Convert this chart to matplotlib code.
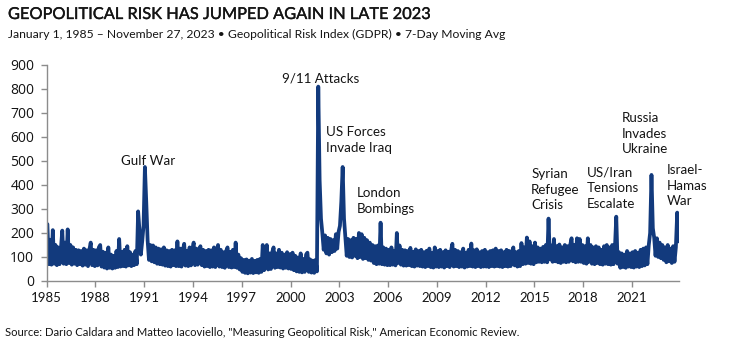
import numpy as np
import matplotlib
matplotlib.use("Agg")
import matplotlib.pyplot as plt
import matplotlib.patheffects as pe

# Geopolitical Risk Index (GPR), 7-day moving average, sampled through each month
# (alternating local highs and lows so the noisy daily band is preserved)
gpr_1985_1989 = [
    237, 70, 172, 68, 212, 72, 150, 66, 140, 70, 135, 210,
    72, 160, 70, 215, 75, 150, 68, 140, 72, 130, 66, 128,
    70, 125, 64, 135, 68, 128, 62, 130, 160, 66, 130, 62,
    128, 65, 140, 150, 60, 122, 56, 118, 52, 140, 55, 110,
    52, 105, 55, 125, 58, 175, 60, 120, 62, 130, 60, 145,
]
gpr_1990_1999 = [
    65, 120, 62, 110, 66, 125, 70, 290, 210, 110, 165, 230,
    475, 330, 170, 88, 150, 82, 148, 78, 140, 72, 135, 70,
    132, 68, 140, 64, 128, 62, 125, 60, 130, 66, 128, 62,
    165, 62, 135, 60, 128, 155, 64, 125, 62, 140, 65, 130,
    160, 66, 135, 68, 128, 145, 66, 130, 60, 125, 62, 130,
    58, 128, 60, 140, 58, 125, 150, 60, 130, 58, 120, 55,
    125, 140, 58, 122, 56, 130, 58, 160, 55, 110, 48, 95,
    38, 88, 34, 90, 32, 85, 35, 92, 33, 84, 36, 88,
    34, 92, 38, 150, 45, 110, 150, 48, 115, 50, 120, 140,
    55, 115, 58, 130, 56, 118, 52, 110, 55, 120, 52, 112,
]
gpr_2000_2009 = [
    50, 118, 45, 105, 40, 98, 38, 115, 36, 92, 38, 110,
    118, 38, 90, 35, 85, 34, 88, 40, 810, 420, 260, 200,
    130, 190, 115, 180, 110, 175, 120, 170, 125, 195, 135, 205,
    230, 330, 475, 260, 180, 105, 175, 100, 170, 98, 180, 105,
    175, 95, 200, 100, 195, 92, 180, 95, 170, 88, 160, 85,
    150, 75, 145, 70, 148, 72, 243, 70, 140, 68, 135, 66,
    130, 66, 140, 68, 125, 65, 200, 75, 148, 68, 130, 64,
    128, 64, 125, 66, 138, 62, 122, 60, 132, 64, 125, 62,
    130, 60, 120, 58, 126, 62, 135, 58, 118, 56, 140, 60,
    125, 58, 130, 60, 120, 56, 128, 62, 122, 58, 125, 155,
]
gpr_2010_2019 = [
    60, 130, 62, 125, 58, 120, 60, 135, 56, 118, 60, 130,
    62, 156, 60, 128, 58, 132, 62, 120, 58, 125, 60, 130,
    60, 120, 58, 125, 62, 128, 60, 135, 62, 125, 60, 128,
    58, 120, 62, 130, 60, 125, 62, 118, 140, 65, 120, 60,
    125, 62, 158, 70, 140, 72, 181, 75, 165, 72, 145, 70,
    160, 78, 140, 80, 135, 78, 142, 80, 150, 78, 260, 90,
    148, 80, 175, 82, 145, 78, 152, 75, 140, 80, 150, 78,
    145, 80, 150, 178, 82, 150, 78, 178, 80, 175, 80, 150,
    75, 145, 72, 178, 80, 150, 72, 140, 70, 145, 75, 140,
    70, 130, 68, 145, 72, 150, 70, 140, 68, 150, 70, 135,
]
gpr_2020_2023 = [
    268, 72, 120, 55, 115, 58, 110, 55, 125, 60, 115, 58,
    120, 56, 125, 60, 118, 58, 130, 62, 135, 65, 140, 70,
    150, 200, 442, 220, 180, 105, 178, 100, 160, 95, 150, 88,
    140, 78, 150, 82, 135, 75, 145, 80, 140, 285, 165,
]

year_ticks = [1985, 1988, 1991, 1994, 1997, 2000, 2003, 2006, 2009, 2012, 2015, 2018, 2021]
y_ticks = [0, 100, 200, 300, 400, 500, 600, 700, 800, 900]

event_labels = [
    ("Gulf War", 1989.55, 525),
    ("9/11 Attacks", 1999.45, 870),
    ("US Forces\nInvade Iraq", 2002.2, 645),
    ("London\nBombings", 2004.1, 390),
    ("Syrian\nRefugee\nCrisis", 2014.8, 472),
    ("US/Iran\nTensions\nEscalate", 2018.25, 478),
    ("Russia\nInvades\nUkraine", 2020.4, 705),
    ("Israel-\nHamas\nWar", 2023.15, 488),
]

values = np.array(gpr_1985_1989 + gpr_1990_1999 + gpr_2000_2009
                  + gpr_2010_2019 + gpr_2020_2023, dtype=float)
dates = 1985 + (np.arange(len(values)) + 0.5) / 12.0

NAVY = "#123a7d"
AXIS_GREY = "#8c8c8c"
INK = "#141414"

fig = plt.figure(figsize=(7.54, 3.47), dpi=100)
ax = fig.add_axes([46.7 / 754, 66 / 347, (679.3 - 46.7) / 754, 216 / 347])

ax.plot(dates, values, color=NAVY, lw=2.7, solid_joinstyle="round",
        solid_capstyle="round")

ax.set_xlim(1985, 2023.92)
ax.set_ylim(0, 900)
ax.set_xticks(year_ticks)
ax.set_xticklabels([str(y) for y in year_ticks], fontfamily="Lato", fontsize=9.5)
ax.set_yticks(y_ticks)
ax.set_yticklabels([str(v) for v in y_ticks], fontfamily="Open Sans", fontsize=10)

for side in ("top", "right"):
    ax.spines[side].set_visible(False)
for side in ("left", "bottom"):
    ax.spines[side].set_color(AXIS_GREY)
    ax.spines[side].set_linewidth(1.0)
ax.tick_params(axis="x", direction="out", length=4, width=1, color=AXIS_GREY,
               pad=4, labelcolor=INK)
ax.tick_params(axis="y", direction="out", length=4, width=1, color=AXIS_GREY,
               pad=5, labelcolor=INK)
ax.patch.set_visible(False)

for text, x, y in event_labels:
    ax.text(x, y, text, ha="left", va="top", fontfamily="Lato", fontsize=9.6,
            color=INK, linespacing=1.38)

title = fig.text(8 / 754, 1 - 8 / 347, "GEOPOLITICAL RISK HAS JUMPED AGAIN IN LATE 2023",
                 ha="left", va="top", fontfamily="Lato", fontsize=11.8, color=INK)
title.set_path_effects([pe.withStroke(linewidth=0.25, foreground=INK)])
fig.text(8 / 754, 1 - 29 / 347,
         "January 1, 1985 \u2013 November 27, 2023 \u2022 Geopolitical Risk Index (GDPR) \u2022 7-Day Moving Avg",
         ha="left", va="top", fontfamily="Lato", fontsize=8.7, color=INK)
fig.text(5 / 754, 1 - 333 / 347,
         "Source: Dario Caldara and Matteo Iacoviello, \"Measuring Geopolitical Risk,\" American Economic Review.",
         ha="left", va="center", fontfamily="Lato", fontsize=8.1, color=INK)

fig.savefig("out.png", dpi=100)
